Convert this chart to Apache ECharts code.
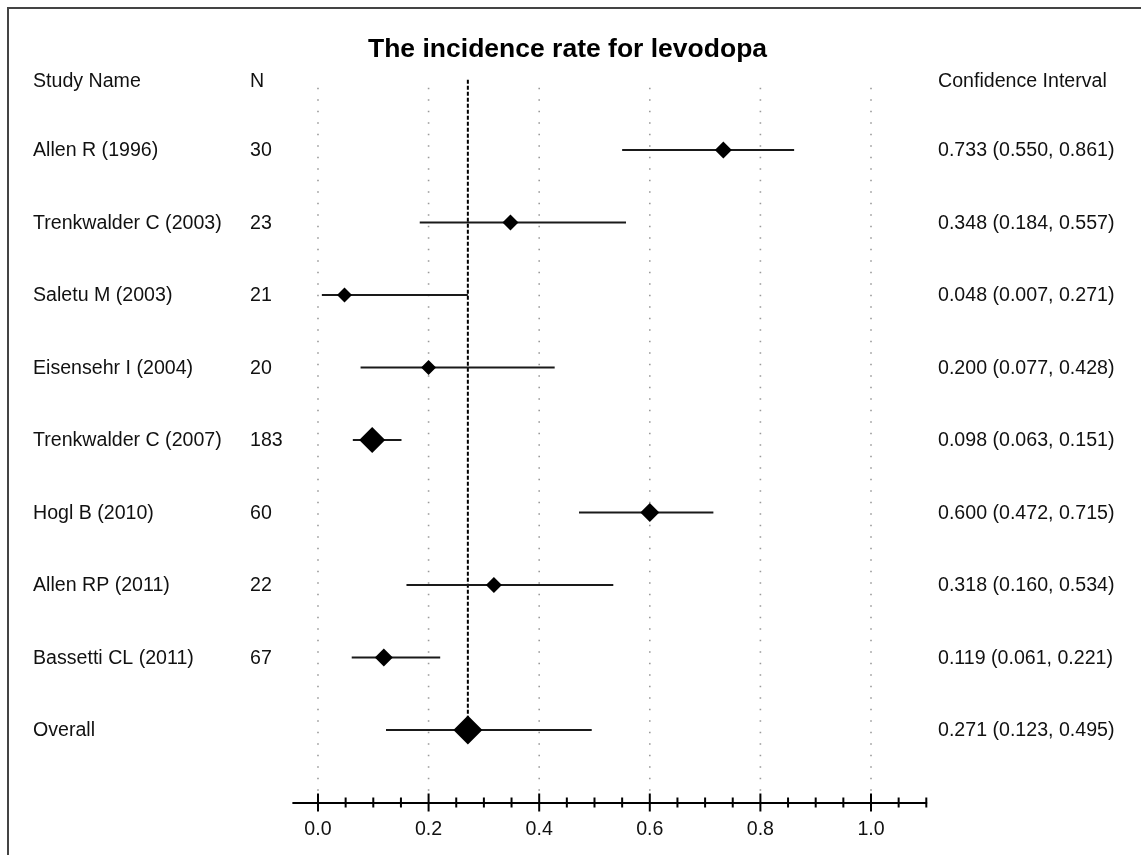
<!DOCTYPE html>
<html>
<head>
<meta charset="utf-8">
<script src="https://cdn.jsdelivr.net/npm/echarts@6/dist/echarts.min.js"></script>
<style>html,body{margin:0;padding:0;background:#fff;}#c{width:1141px;height:855px;}</style>
</head>
<body>
<div id="c"></div>
<script>
var studies = ['Allen R (1996)','Trenkwalder C (2003)','Saletu M (2003)','Eisensehr I (2004)','Trenkwalder C (2007)','Hogl B (2010)','Allen RP (2011)','Bassetti CL (2011)','Overall'];
var sampleN = ['30','23','21','20','183','60','22','67',''];
var estimate = [0.733,0.348,0.048,0.200,0.098,0.600,0.318,0.119,0.271];
var lower = [0.550,0.184,0.007,0.077,0.063,0.472,0.160,0.061,0.123];
var upper = [0.861,0.557,0.271,0.428,0.151,0.715,0.534,0.221,0.495];
var markerSize = [17,16,15,15,26,19,16,18,29];
var overallRate = 0.271;
var majorTicks = [0,0.2,0.4,0.6,0.8,1.0];
var minorTicks = [0.05,0.1,0.15,0.25,0.3,0.35,0.45,0.5,0.55,0.65,0.7,0.75,0.85,0.9,0.95,1.05,1.1];
var headers = ['Study Name','N','Confidence Interval'];
var titleText = 'The incidence rate for levodopa';

var FONT = 'Liberation Sans, Arial, Helvetica, sans-serif';
var COL_NAME = 33, COL_N = 250, COL_CI = 938;
var FS = 19.6;

var chart = echarts.init(document.getElementById('c'), null, {renderer:'canvas'});

var rowData = studies.map(function(s,i){ return [0,i]; });
var ciData = studies.map(function(s,i){ return [lower[i], upper[i], i]; });
var pointData = studies.map(function(s,i){ return {value:[estimate[i], i], symbolSize: markerSize[i]}; });
var gridX = [0, 0.2, 0.4, 0.6, 0.8, 1.0];

var option = {
  animation:false,
  backgroundColor:'#fff',
  title:{text:titleText, left:363, top:31, textStyle:{fontFamily:FONT, fontSize:26.5, fontWeight:'bold', color:'#000'}},
  graphic:[{type:'rect', shape:{x:8,y:8,width:1300,height:1000}, style:{fill:null, stroke:'#444', lineWidth:2}, silent:true, z:-10}],
  grid:{left:293.1, right:214.7, top:77.5, bottom:52.5, containLabel:false},
  xAxis:{type:'value', min:-0.045, max:1.1,
    axisLine:{show:true, onZero:false, lineStyle:{color:'#000', width:2}},
    axisTick:{show:false},
    splitLine:{show:false},
    axisLabel:{show:true, customValues:majorTicks, formatter:function(v){return v.toFixed(1);}, margin:17, fontFamily:FONT, fontSize:FS, color:'#111'}
  },
  yAxis:{type:'value', inverse:true, min:-1, max:9, show:false},
  series:[
    {type:'custom', coordinateSystem:'cartesian2d', silent:true, z:1,
      data: gridX.map(function(v){return [v, 0];}),
      renderItem:function(params, api){
        var a = api.coord([api.value(0), -0.86]);
        var b = api.coord([api.value(0), 8.9]);
        return {type:'line', shape:{x1:a[0],y1:a[1],x2:b[0],y2:b[1]}, style:{stroke:'#9a9a9a', lineWidth:1.6, lineDash:[1.6,9.9]}};
      }
    },
    {type:'custom', coordinateSystem:'cartesian2d', silent:true, z:2,
      data:[[overallRate, 0]],
      renderItem:function(params, api){
        var a = api.coord([api.value(0), -0.97]);
        var b = api.coord([api.value(0), 8]);
        return {type:'line', shape:{x1:a[0],y1:a[1],x2:b[0],y2:b[1]}, style:{stroke:'#000', lineWidth:2, lineDash:[4,2]}};
      }
    },
    {type:'custom', coordinateSystem:'cartesian2d', silent:true, z:3,
      data: ciData,
      renderItem:function(params, api){
        var a = api.coord([api.value(0), api.value(2)]);
        var b = api.coord([api.value(1), api.value(2)]);
        return {type:'line', shape:{x1:a[0],y1:a[1],x2:b[0],y2:b[1]}, style:{stroke:'#1a1a1a', lineWidth:2.2}};
      }
    },
    {type:'scatter', silent:true, z:4, symbol:'diamond', itemStyle:{color:'#000', opacity:1}, data:pointData},
    {type:'custom', coordinateSystem:'cartesian2d', silent:true, z:5,
      data: majorTicks.map(function(v){return [v,1];}).concat(minorTicks.map(function(v){return [v,0];})),
      renderItem:function(params, api){
        var p = api.coord([api.value(0), 9]);
        var h = api.value(1) ? 9 : 5;
        return {type:'line', shape:{x1:p[0],y1:p[1]-h,x2:p[0],y2:p[1]+h}, style:{stroke:'#000', lineWidth:2}};
      }
    },
    {type:'custom', coordinateSystem:'cartesian2d', silent:true, z:6, clip:false,
      data: rowData,
      renderItem:function(params, api){
        var i = api.value(1);
        var y = api.coord([0, i])[1] + 1;
        var ci = estimate[i].toFixed(3)+' ('+lower[i].toFixed(3)+', '+upper[i].toFixed(3)+')';
        var st = function(t,x){ return {type:'text', x:x, y:y, style:{text:t, fill:'#111', font:FS+'px '+FONT, textAlign:'left', textVerticalAlign:'middle'}}; };
        return {type:'group', children:[st(studies[i], COL_NAME), st(sampleN[i], COL_N), st(ci, COL_CI)]};
      }
    },
    {type:'custom', coordinateSystem:'cartesian2d', silent:true, z:6, clip:false,
      data:[[0,-0.97]],
      renderItem:function(params, api){
        var y = api.coord([0, api.value(1)])[1] + 2;
        var st = function(t,x){ return {type:'text', x:x, y:y, style:{text:t, fill:'#111', font:FS+'px '+FONT, textAlign:'left', textVerticalAlign:'middle'}}; };
        return {type:'group', children:[st(headers[0], COL_NAME), st(headers[1], COL_N), st(headers[2], COL_CI)]};
      }
    }
  ]
};
chart.setOption(option);
</script>
</body>
</html>
